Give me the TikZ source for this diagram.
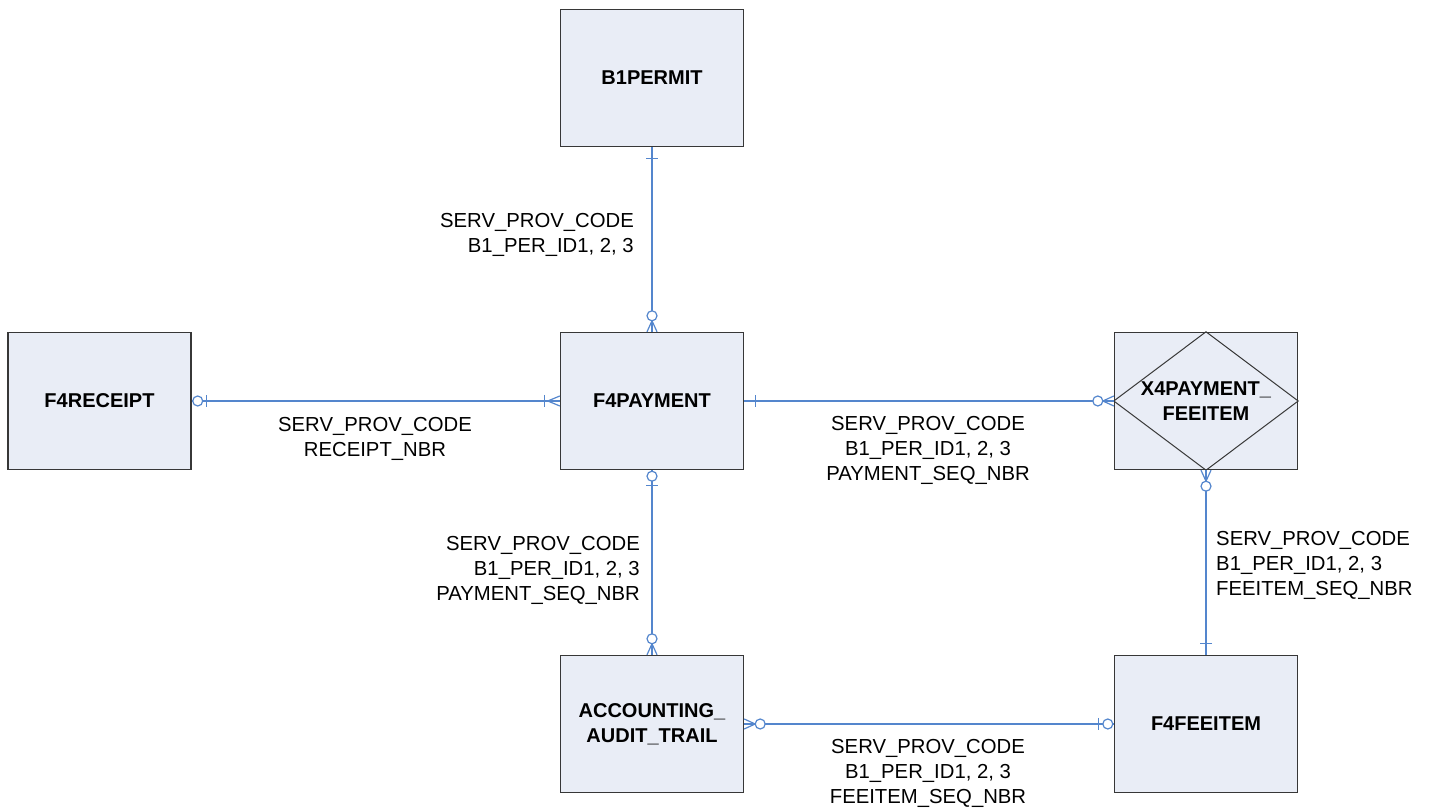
\documentclass[tikz,border=0pt]{standalone}
\usepackage{fontspec}
\setmainfont{Liberation Sans}
\usetikzlibrary{calc}

\definecolor{boxfill}{RGB}{233,237,246}
\definecolor{boxline}{RGB}{55,55,55}
\definecolor{relline}{RGB}{84,134,205}

\tikzset{
  entity/.style={draw=boxline, line width=1.4pt, fill=boxfill,
    minimum width=183pt, minimum height=137pt, inner sep=0pt,
    font=\fontsize{20}{25}\selectfont\bfseries, align=center},
  conn/.style={draw=relline, line width=1.2pt},
  keys/.style={inner sep=0pt, font=\fontsize{20.3}{25}\selectfont},
  % cardinality marks; local +x points away from the entity
  erone/.pic={\draw[conn] (11,-6) -- (11,6);},
  erzeroone/.pic={
    \draw[conn] (15,-6) -- (15,6);
    \draw[conn, fill=white] (6,0) circle (5);},
  eronemany/.pic={
    \draw[conn] (0,-5) -- (12,0) -- (0,5) (0,0) -- (12,0);
    \draw[conn] (15,-6) -- (15,6);},
  erzeromany/.pic={
    \draw[conn] (0,-5) -- (11,0) -- (0,5) (0,0) -- (11,0);
    \draw[conn, fill=white] (16,0) circle (5);},
}

\begin{document}
\begin{tikzpicture}[x=1pt, y=1pt]
\useasboundingbox (0,0) rectangle (1433,808);

% entities
\node[entity] (permit)  at (652,730)    {B1PERMIT};
\node[entity] (receipt) at (99.5,407)   {F4RECEIPT};
\node[entity] (payment) at (652,407)    {F4PAYMENT};
\node[entity] (payfee)  at (1206,407)   {};
\node[entity] (audit)   at (652,84)     {ACCOUNTING\_\\AUDIT\_TRAIL};
\node[entity] (feeitem) at (1206,84)    {F4FEEITEM};

% associative entity: diamond inside its box
\draw[boxline, line width=1pt] (payfee.west) -- (payfee.north) -- (payfee.east) -- (payfee.south) -- cycle;
\node[font=\fontsize{20}{25}\selectfont\bfseries, align=center, inner sep=0pt] (payfeelabel)
  at (payfee.center) {X4PAYMENT\_\\FEEITEM};

% relationships
\draw[conn] (permit.south) -- (payment.north);
\draw[conn] (receipt.east) -- (payment.west);
\draw[conn] (payment.east) -- (payfee.west);
\draw[conn] (payment.south) -- (audit.north);
\draw[conn] (audit.east) -- (feeitem.west);
\draw[conn] (payfee.south) -- (feeitem.north);

% cardinality marks
\pic[rotate=-90] at (permit.south)  {erone};
\pic[rotate=90]  at (payment.north) {erzeromany};
\pic             at (receipt.east)  {erzeroone};
\pic[rotate=180] at (payment.west)  {eronemany};
\pic             at (payment.east)  {erone};
\pic[rotate=180] at (payfee.west)   {erzeromany};
\pic[rotate=-90] at (payment.south) {erzeroone};
\pic[rotate=90]  at (audit.north)   {erzeromany};
\pic             at (audit.east)    {erzeromany};
\pic[rotate=180] at (feeitem.west)  {erzeroone};
\pic[rotate=-90] at (payfee.south)  {erzeromany};
\pic[rotate=90]  at (feeitem.north) {erone};

% key labels
\node[keys, align=right, anchor=east] (k1) at (634,573.5)
  {SERV\_PROV\_CODE\\B1\_PER\_ID1, 2, 3};
\node[keys, align=center] (k2) at (375,369.5)
  {SERV\_PROV\_CODE\\RECEIPT\_NBR};
\node[keys, align=center] (k3) at (928,357.5)
  {SERV\_PROV\_CODE\\B1\_PER\_ID1, 2, 3\\PAYMENT\_SEQ\_NBR};
\node[keys, align=right, anchor=east] (k4) at (640,237.5)
  {SERV\_PROV\_CODE\\B1\_PER\_ID1, 2, 3\\PAYMENT\_SEQ\_NBR};
\node[keys, align=left, anchor=west] (k5) at (1216,243)
  {SERV\_PROV\_CODE\\B1\_PER\_ID1, 2, 3\\FEEITEM\_SEQ\_NBR};
\node[keys, align=center] (k6) at (928,35)
  {SERV\_PROV\_CODE\\B1\_PER\_ID1, 2, 3\\FEEITEM\_SEQ\_NBR};
\end{tikzpicture}
\end{document}
